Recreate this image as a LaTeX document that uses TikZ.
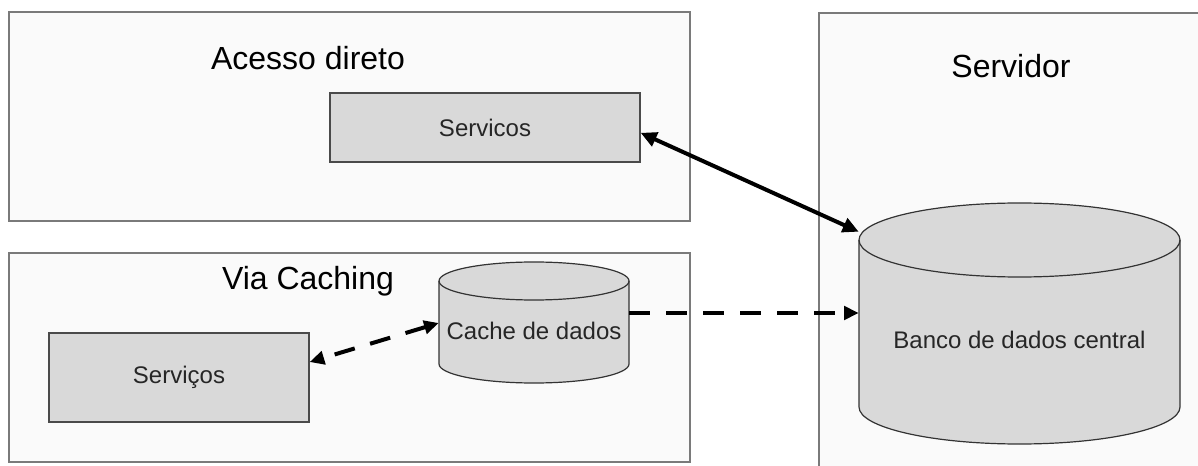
\documentclass[tikz,border=0pt]{standalone}
\usepackage{fontspec}
\setmainfont{Liberation Sans}
\usetikzlibrary{arrows.meta}
\definecolor{outerfill}{HTML}{FAFAFA}
\definecolor{outerline}{HTML}{7A7A7A}
\definecolor{innerfill}{HTML}{D9D9D9}
\definecolor{innerline}{HTML}{4A4A4A}
\begin{document}
\begin{tikzpicture}[x=0.75pt,y=-0.75pt,
  sz/.style 2 args={minimum width=#1*0.75pt, minimum height=#2*0.75pt},
  outerbox/.style={draw=outerline, fill=outerfill, line width=1.2pt, inner sep=0pt},
  innerbox/.style={draw=innerline, fill=innerfill, line width=1pt, inner sep=0pt,
    font=\fontsize{18}{22}\selectfont, text=black!85},
  cyl/.style={draw=black!80, fill=innerfill, line width=0.9pt},
  cyltext/.style={draw=none, inner sep=0pt, font=\fontsize{18}{22}\selectfont, text=black!85},
  title/.style={font=\fontsize{24}{28}\selectfont, anchor=base, inner sep=0pt, text=black},
  solidarr/.style={line width=3pt, {Triangle[length=12pt,width=11pt]}-{Triangle[length=12pt,width=11pt]}},
  dasharr/.style={line width=3pt, dash pattern=on 15.75pt off 12pt, -{Triangle[length=11pt,width=10pt]}},
  dasharrb/.style={line width=3pt, dash pattern=on 15.75pt off 12pt, {Triangle[length=11pt,width=10pt]}-{Triangle[length=11pt,width=10pt]}}
]
\useasboundingbox (0,0) rectangle (1198,466);
\fill[white] (0,0) rectangle (1198,466);
\clip (0,0) rectangle (1198,466);

% containers
\node[outerbox, sz={681}{209}] (boxA) at (349.5,116.5) {};
\node[outerbox, sz={681}{209}] (boxB) at (349.5,357.5) {};
\node[outerbox, sz={411}{487}] (server) at (1024.5,256.5) {};

% titles
\node[title] (tA) at (308,70) {Acesso direto};
\node[title] (tB) at (308,290) {Via Caching};
\node[title] (tS) at (1011,78) {Servidor};

% service boxes
\node[innerbox, sz={310}{69}] (srv1) at (485,127.5) {Servicos};
\node[innerbox, sz={260}{89}] (srv2) at (179,377.5) {Serviços};

% cache cylinder
\filldraw[cyl] (439,281) -- (439,364)
  arc[start angle=180,end angle=360,x radius=71.25pt,y radius=14.25pt]
  -- (629,281)
  arc[start angle=0,end angle=180,x radius=71.25pt,y radius=14.25pt] -- cycle;
\draw[cyl, fill=none] (439,281) arc[start angle=180,end angle=360,x radius=71.25pt,y radius=14.25pt];
\node[cyltext, sz={190}{102}] (cache) at (534,331) {Cache de dados};

% central database cylinder
\filldraw[cyl] (859,240) -- (859,407)
  arc[start angle=180,end angle=360,x radius=120.375pt,y radius=27.75pt]
  -- (1180,240)
  arc[start angle=0,end angle=180,x radius=120.375pt,y radius=27.75pt] -- cycle;
\draw[cyl, fill=none] (859,240) arc[start angle=180,end angle=360,x radius=120.375pt,y radius=27.75pt];
\node[cyltext, sz={321}{216}] (db) at (1019.5,340) {Banco de dados central};

% connectors
\draw[solidarr] ([yshift=-4pt]srv1.east) -- (db.north west);
\coordinate (cR) at ([yshift=13.5pt]cache.east);
\draw[dasharr] (cR) -- (cR -| db.west);
\draw[dasharrb] ([yshift=6pt]cache.west) -- ([yshift=11.6pt]srv2.east);
\end{tikzpicture}
\end{document}
